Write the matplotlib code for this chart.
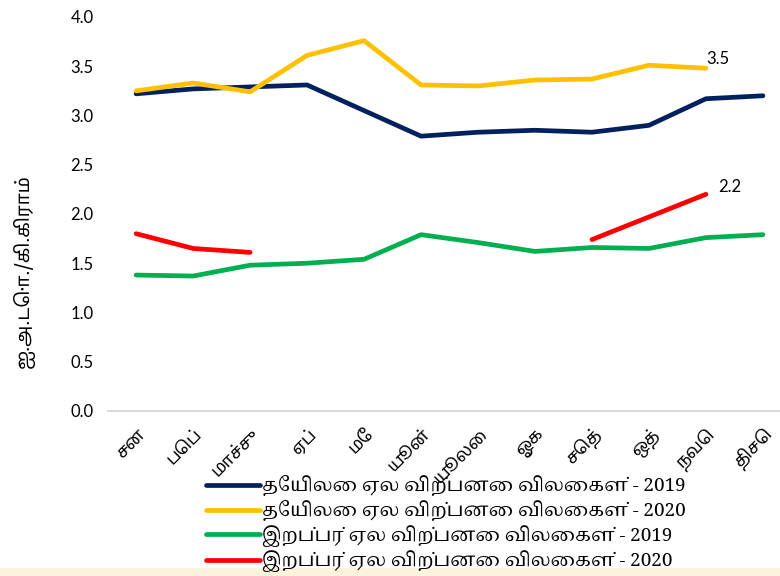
import numpy as np
import matplotlib
matplotlib.use('Agg')
from matplotlib import pyplot as plt
from matplotlib.patches import Rectangle

months = ['சன', 'பெப்', 'மாச்சு', 'ஏப்', 'மே', 'யூன்', 'யூலை', 'ஓக', 'செத்', 'ஒத்', 'நவெ', 'திசெ']
tea_2019 = [3.22, 3.27, 3.29, 3.31, 3.05, 2.79, 2.83, 2.85, 2.83, 2.90, 3.17, 3.20]
tea_2020 = [3.25, 3.33, 3.24, 3.61, 3.76, 3.31, 3.30, 3.36, 3.37, 3.51, 3.48, np.nan]
rubber_2019 = [1.38, 1.37, 1.48, 1.50, 1.54, 1.79, 1.71, 1.62, 1.66, 1.65, 1.76, 1.79]
rubber_2020 = [1.80, 1.65, 1.61, np.nan, np.nan, np.nan, np.nan, np.nan, 1.74, 1.97, 2.20, np.nan]
series_labels = ['தேயிலை ஏல விற்பனை விலைகள் - 2019',
                 'தேயிலை ஏல விற்பனை விலைகள் - 2020',
                 'இறப்பர் ஏல விற்பனை விலைகள் - 2019',
                 'இறப்பர் ஏல விற்பனை விலைகள் - 2020']
ylabel = 'ஐ.அ.டொ./கி.கிராம்'

sans_ta = ['Noto Sans Tamil', 'DejaVu Sans']
serif_ta = ['Noto Serif Tamil', 'DejaVu Serif']

fig = plt.figure(figsize=(7.8, 5.76), dpi=100)
ax = fig.add_axes([0.138, 0.2865, 0.862, 0.684])

x = np.arange(len(months))
colors = ['#002060', '#FFC000', '#00B050', '#FF0000']
for vals, c, lab in zip([tea_2019, tea_2020, rubber_2019, rubber_2020], colors, series_labels):
    ax.plot(x, vals, color=c, lw=3.4, label=lab, solid_capstyle='round')

# end labels
ax.annotate('3.5', (x[10], tea_2020[10]), xytext=(0, 3), textcoords='offset points',
            fontsize=12, family='Lato')
ax.annotate('2.2', (x[10], rubber_2020[10]), xytext=(9, 2), textcoords='offset points',
            fontsize=12, family='Lato')

ax.set_ylim(0, 4)
ax.set_xlim(-0.5, 11.3)
ax.set_yticks(np.arange(0, 4.01, 0.5))
ax.set_yticklabels(['%.1f' % v for v in np.arange(0, 4.01, 0.5)], family='Lato', fontsize=12)
ax.set_xticks(x)
ax.set_xticklabels(months, rotation=45, ha='right', rotation_mode='anchor', family=sans_ta, fontsize=12.5)
ax.tick_params(length=0, pad=10)
for s in ['top', 'right', 'left']:
    ax.spines[s].set_visible(False)
ax.spines['bottom'].set_color('#d9d9d9')
ax.spines['bottom'].set_linewidth(1.5)
ax.set_ylabel(ylabel, family=sans_ta, fontsize=13.5)
ax.yaxis.set_label_coords(-0.108, 0.355)

fig.legend(loc='upper left', bbox_to_anchor=(0.242, 0.204), frameon=False, handlelength=2.9,
           handletextpad=0.1, labelspacing=0.2, prop={'family': serif_ta, 'size': 13.5})
fig.add_artist(Rectangle((0, 0), 1, 0.014, transform=fig.transFigure, color='#FDF2DC', lw=0))

fig.savefig('out.png', dpi=100)
